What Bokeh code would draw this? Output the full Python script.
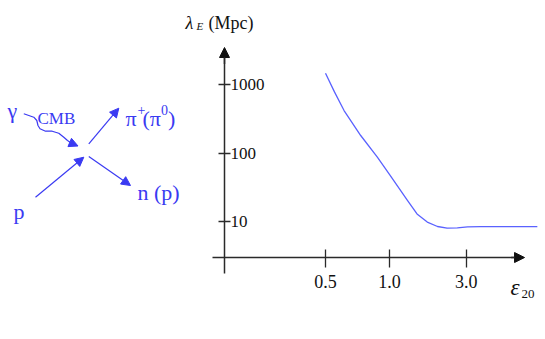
from bokeh.plotting import figure
from bokeh.models import (Range1d, LinearScale, LinearAxis, LogAxis, FixedTicker,
                          Arrow, NormalHead)
from bokeh.core.properties import value
from bokeh.embed import file_html
from bokeh.resources import INLINE

# ---------------- data ----------------
# x positions on the schematic (non-uniform) energy axis; labels shown below
x_tick_pos = [0.0, 1.0, 2.2]
x_tick_labels = ["0.5", "1.0", "3.0"]
y_tick_vals = [10, 100, 1000]
y_tick_labels = ["10", "100", "1000"]

# energy-loss length curve (schematic axis position, lambda_E in Mpc)
curve_pos = [0.0, 0.14, 0.29, 0.55, 0.81, 1.01, 1.28, 1.43, 1.59, 1.75, 1.90, 2.06, 2.22, 2.42, 3.31]
curve_lambda = [1460, 780, 417, 180, 87, 47, 20.3, 12.9, 9.8, 8.45, 7.98, 8.09, 8.37, 8.4, 8.4]

BLUE = "#3a3af2"
CURVE = "#5a62ff"
AX = "#2a2a2a"
SERIF = "Liberation Serif"

W, H = 540, 331
p = figure(width=W, height=H,
           x_range=Range1d(-5.078, (W - 325) / 64.0),
           y_range=Range1d(10 ** ((289.5 - H) / 68.5), 16840),
           y_axis_type="log", x_axis_location=None, y_axis_location=None,
           output_backend="svg", toolbar_location=None, min_border=0,
           outline_line_color=None, background_fill_color="white")
p.grid.grid_line_color = None

# page-coordinate ranges for the reaction sketch and labels
p.extra_x_ranges = {"px": Range1d(0, W)}
p.extra_y_ranges = {"py": Range1d(H, 0)}
p.extra_x_scales = {"px": LinearScale()}
p.extra_y_scales = {"py": LinearScale()}

# ---------------- axes ----------------
yaxis = LogAxis(fixed_location=-1.578,
                ticker=FixedTicker(ticks=y_tick_vals),
                major_label_overrides=dict(zip(y_tick_vals, y_tick_labels)),
                bounds=(1.741, 2900),
                axis_line_color=AX, axis_line_width=1.5,
                major_tick_in=6, major_tick_out=6,
                major_tick_line_color=AX, major_tick_line_width=1.3,
                minor_tick_in=0, minor_tick_out=0,
                major_label_standoff=0,
                major_label_text_font=SERIF, major_label_text_font_size="17px",
                major_label_text_color="#111111")
p.add_layout(yaxis, "right")

xaxis = LinearAxis(fixed_location=2.98,
                   ticker=FixedTicker(ticks=x_tick_pos),
                   major_label_overrides=dict(zip(x_tick_pos, x_tick_labels)),
                   bounds=(-1.766, 3.0),
                   axis_line_color=AX, axis_line_width=1.5,
                   major_tick_in=8, major_tick_out=10,
                   major_tick_line_color=AX, major_tick_line_width=1.3,
                   minor_tick_in=0, minor_tick_out=0,
                   major_label_standoff=7,
                   major_label_text_font=SERIF, major_label_text_font_size="18px",
                   major_label_text_color="#111111")
p.add_layout(xaxis, "below")

p.add_layout(Arrow(end=NormalHead(size=10, fill_color="#111111", line_color="#111111"),
                   x_start=-1.578, y_start=2000, x_end=-1.578, y_end=3467,
                   line_color=AX, line_width=1.5))
p.add_layout(Arrow(end=NormalHead(size=10, fill_color="#111111", line_color="#111111"),
                   x_start=2.9, y_start=2.98, x_end=3.11, y_end=2.98,
                   line_color=AX, line_width=1.5))

# ---------------- curve ----------------
p.line(curve_pos, curve_lambda, line_color=CURVE, line_width=1.3, line_join="round")

# ---------------- axis titles ----------------
def txt(xs, ys, texts, size, style="normal", color="#111111"):
    p.text(x=xs, y=ys, text=texts, x_range_name="px", y_range_name="py",
           text_font=value(SERIF), text_font_size=value(size),
           text_font_style=style, text_color=color,
           text_align="left", text_baseline="alphabetic")

txt([185], [22], ["λ"], "18px", "italic")
txt([196], [25.5], ["E"], "11px", "italic")
txt([208], [22], ["(Mpc)"], "18px")
txt([510], [287], ["ε"], "23px", "italic")
txt([521], [293], ["20"], "13px")

# ---------------- reaction sketch ----------------
txt([7], [110], ["γ"], "22px", color=BLUE)
txt([37], [118], ["CMB"], "17px", color=BLUE)
txt([125, 142, 167.5], [118, 118, 118], ["π", "(π", ")"], "22px", color=BLUE)
txt([137, 160.5], [109, 109], ["+", "0"], "14px", color=BLUE)
txt([137], [192], ["n (p)"], "22px", color=BLUE)
txt([13], [211], ["p"], "22px", color=BLUE)

wave_x = [23.3, 28.3, 33.3, 36.3, 37.5, 39.5, 45.0, 51.7, 58.3, 63.3, 67.0, 71.0]
wave_y = [113.3, 115.0, 116.7, 120.0, 125.0, 128.3, 130.7, 130.7, 132.7, 136.7, 140.0, 142.7]
p.line(wave_x, wave_y, x_range_name="px", y_range_name="py",
       line_color=BLUE, line_width=1.2, line_join="round")

arrows = [((70.0, 142.3), (77.5, 145.5)),
          ((35.0, 196.7), (83.3, 156.7)),
          ((88.3, 143.3), (118.3, 107.7)),
          ((88.3, 156.0), (130.0, 185.0))]
for (xs, ys), (xe, ye) in arrows:
    p.add_layout(Arrow(end=NormalHead(size=9, fill_color=BLUE, line_color=BLUE),
                       x_start=xs, y_start=ys, x_end=xe, y_end=ye,
                       x_range_name="px", y_range_name="py",
                       line_color=BLUE, line_width=1.2))

open("out.html", "w").write(file_html(p, INLINE))
